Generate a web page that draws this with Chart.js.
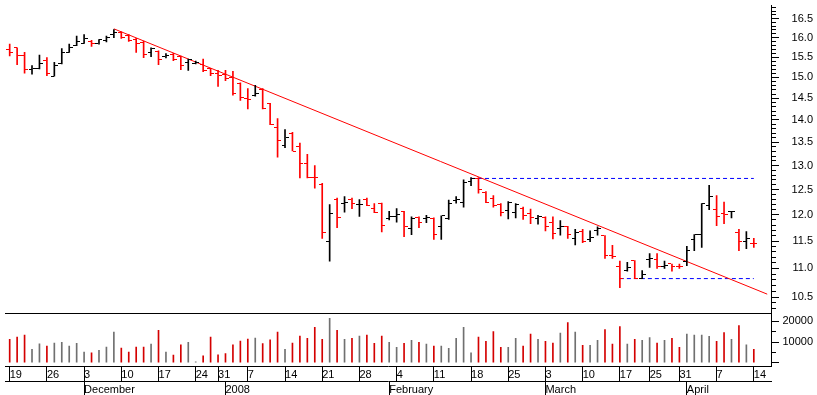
<!DOCTYPE html>
<html>
<head>
<meta charset="utf-8">
<script src="https://cdn.jsdelivr.net/npm/chart.js@4.4.1/dist/chart.umd.min.js"></script>
<style>
  html, body { margin: 0; padding: 0; background: #fff; }
  #wrap { width: 817px; height: 395px; }
</style>
</head>
<body>
<div id="wrap"><canvas id="chart"></canvas></div>
<script>
// Daily OHLC bars, 19 Nov 2007 - 14 Apr 2008, log price scale + volume pane
const dates = [
  '2007-11-19', '2007-11-20', '2007-11-21', '2007-11-22', '2007-11-23', '2007-11-26', '2007-11-27', '2007-11-28', '2007-11-29', '2007-11-30',
  '2007-12-03', '2007-12-04', '2007-12-05', '2007-12-06', '2007-12-07', '2007-12-10', '2007-12-11', '2007-12-12', '2007-12-13', '2007-12-14',
  '2007-12-17', '2007-12-18', '2007-12-19', '2007-12-20', '2007-12-21', '2007-12-24', '2007-12-27', '2007-12-28', '2007-12-31',
  '2008-01-02', '2008-01-03', '2008-01-04', '2008-01-07', '2008-01-08', '2008-01-09', '2008-01-10', '2008-01-11', '2008-01-14', '2008-01-15',
  '2008-01-16', '2008-01-17', '2008-01-18', '2008-01-21', '2008-01-22', '2008-01-23', '2008-01-24', '2008-01-25', '2008-01-28', '2008-01-29',
  '2008-01-30', '2008-01-31', '2008-02-01', '2008-02-04', '2008-02-05', '2008-02-06', '2008-02-07', '2008-02-08', '2008-02-11', '2008-02-12',
  '2008-02-13', '2008-02-14', '2008-02-15', '2008-02-18', '2008-02-19', '2008-02-20', '2008-02-21', '2008-02-22', '2008-02-25', '2008-02-26',
  '2008-02-27', '2008-02-28', '2008-02-29', '2008-03-03', '2008-03-04', '2008-03-05', '2008-03-06', '2008-03-07', '2008-03-10', '2008-03-11',
  '2008-03-12', '2008-03-13', '2008-03-14', '2008-03-17', '2008-03-18', '2008-03-19', '2008-03-20', '2008-03-25', '2008-03-26', '2008-03-27',
  '2008-03-28', '2008-03-31', '2008-04-01', '2008-04-02', '2008-04-03', '2008-04-04', '2008-04-07', '2008-04-08', '2008-04-09', '2008-04-10',
  '2008-04-11', '2008-04-14'
];

const open = [
  15.70, 15.74, 15.55, 15.19, 15.22, 15.41, 15.03, 15.35, 15.62, 15.79,
  15.85, 15.91, 15.85, 15.93, 16.07, 16.13, 16.06, 15.95, 15.87, 15.62,
  15.64, 15.52, 15.58, 15.51, 15.37, 15.35, 15.32, 15.21, 15.10, 15.06,
  15.00, 14.85, 14.49, 14.57, 14.70, 14.38, 13.83, 13.43, 13.70, 13.41,
  13.04, 12.75, 12.61, 11.49, 12.31, 12.22, 12.31, 12.20, 12.31, 12.12,
  12.22, 11.93, 11.96, 12.07, 11.74, 11.94, 11.92, 11.92, 11.77, 11.92,
  12.28, 12.25, 12.67, 12.73, 12.44, 12.33, 12.20, 12.09, 12.05, 12.13,
  12.02, 11.92, 11.94, 11.85, 11.74, 11.77, 11.54, 11.67, 11.52, 11.69,
  11.60, 11.23, 11.04, 10.96, 11.14, 10.83, 11.16, 11.16, 11.04, 11.08,
  11.04, 11.13, 11.52, 11.62, 12.18, 12.10, 12.02, 12.06, 11.66, 11.50,
  11.46
];
const high = [
  15.83, 15.74, 15.62, 15.29, 15.55, 15.49, 15.37, 15.72, 15.83, 16.04,
  16.08, 15.93, 15.95, 16.04, 16.21, 16.15, 16.08, 15.98, 15.91, 15.74,
  15.66, 15.59, 15.60, 15.53, 15.45, 15.40, 15.45, 15.22, 15.17, 15.17,
  15.15, 14.87, 14.73, 14.81, 14.73, 14.38, 14.03, 13.78, 13.72, 13.48,
  13.24, 13.00, 12.63, 12.20, 12.33, 12.36, 12.33, 12.30, 12.33, 12.22,
  12.23, 12.07, 12.12, 12.07, 11.96, 11.96, 11.99, 11.94, 11.98, 12.29,
  12.36, 12.70, 12.75, 12.75, 12.46, 12.38, 12.22, 12.26, 12.22, 12.15,
  12.11, 11.99, 11.96, 11.96, 11.89, 11.78, 11.72, 11.72, 11.69, 11.77,
  11.60, 11.42, 11.13, 11.11, 11.14, 10.96, 11.27, 11.27, 11.13, 11.08,
  11.08, 11.40, 11.62, 12.22, 12.59, 12.38, 12.25, 12.07, 11.72, 11.68,
  11.55
];
const low = [
  15.53, 15.31, 15.10, 15.08, 15.21, 15.04, 15.03, 15.33, 15.62, 15.79,
  15.85, 15.77, 15.83, 15.89, 16.00, 15.98, 15.90, 15.62, 15.49, 15.51,
  15.31, 15.48, 15.41, 15.19, 15.17, 15.33, 15.14, 15.04, 14.78, 14.92,
  14.57, 14.45, 14.25, 14.55, 14.25, 13.89, 13.18, 13.38, 13.31, 12.74,
  12.74, 12.53, 11.55, 11.13, 11.75, 12.05, 12.12, 11.97, 12.18, 12.04,
  11.67, 11.90, 11.86, 11.58, 11.62, 11.75, 11.85, 11.53, 11.53, 11.91,
  12.23, 12.15, 12.58, 12.43, 12.24, 12.15, 11.98, 11.92, 11.94, 11.91,
  11.83, 11.82, 11.69, 11.54, 11.61, 11.55, 11.43, 11.47, 11.49, 11.61,
  11.18, 11.18, 10.66, 10.95, 10.82, 10.82, 11.02, 11.00, 11.00, 10.95,
  11.00, 11.05, 11.32, 11.38, 12.10, 11.79, 11.83, 11.94, 11.32, 11.36,
  11.38
];
const close = [
  15.63, 15.55, 15.20, 15.21, 15.33, 15.10, 15.30, 15.62, 15.74, 15.91,
  15.98, 15.85, 15.94, 16.00, 16.13, 16.01, 15.93, 15.85, 15.56, 15.73,
  15.45, 15.53, 15.43, 15.30, 15.43, 15.37, 15.17, 15.09, 15.04, 14.98,
  14.61, 14.51, 14.48, 14.61, 14.26, 13.90, 13.54, 13.61, 13.31, 13.04,
  12.75, 12.74, 11.66, 12.02, 11.94, 12.25, 12.22, 12.21, 12.18, 12.05,
  11.80, 11.96, 12.00, 11.77, 11.92, 11.86, 11.94, 11.63, 11.98, 12.22,
  12.30, 12.64, 12.73, 12.51, 12.25, 12.18, 12.04, 12.25, 12.20, 11.99,
  11.94, 11.96, 11.78, 11.64, 11.78, 11.62, 11.66, 11.49, 11.56, 11.74,
  11.23, 11.22, 10.83, 11.01, 10.82, 10.89, 11.17, 11.04, 11.06, 11.04,
  11.03, 11.32, 11.62, 12.22, 12.36, 11.97, 12.01, 12.06, 11.49, 11.54,
  11.45
];
const volume = [
  11300, 12400, 13300, 6500, 9100, 8100, 9500, 9900, 8100, 9400,
  5200, 4800, 6000, 7600, 14800, 7100, 5200, 7600, 7600, 9000,
  15600, 5200, 3700, 8600, 9900, 500, 3300, 12400, 3800, 4400,
  8600, 10500, 11400, 11900, 9200, 11100, 14800, 6500, 9500, 12900,
  11800, 17100, 11300, 21400, 15600, 11300, 11800, 12900, 13300, 9400,
  12900, 9900, 7500, 9400, 10800, 9900, 9000, 8000, 8000, 7000,
  11800, 17100, 4800, 12400, 10300, 15100, 7500, 7500, 11800, 8000,
  13800, 11300, 10300, 9500, 14300, 19400, 14800, 8400, 8400, 10800,
  16000, 9000, 17500, 9000, 11300, 10800, 12200, 9500, 10800, 11800,
  7500, 13800, 13300, 13300, 12700, 10300, 14600, 11300, 18000, 8600,
  6500
];

const priceLabels = [10.5, 11.0, 11.5, 12.0, 12.5, 13.0, 13.5, 14.0, 14.5, 15.0, 15.5, 16.0, 16.5];
const volumeLabels = [10000, 20000];
const monthNames = ['January', 'February', 'March', 'April', 'May', 'June', 'July',
  'August', 'September', 'October', 'November', 'December'];

// drawn lines: [day index, price]
const downTrend = [[14, 16.23], [101.8, 10.55]];
const resistance = [[62, 12.73], [100, 12.73]];
const support = [[82, 10.82], [100, 10.82]];

const PRICE_MIN = 10.22, PRICE_MAX = 16.87;
const VOL_MIN = -1570, VOL_MAX = 23670;
const X_MIN = -0.63, X_MAX = 102.31;

const RED = '#ff0000';
const BLACK = '#000000';
const VOL_RED = '#d40000';
const VOL_GREY = '#707070';

// week / month boundaries for the date axes
const parsed = dates.map(d => new Date(d + 'T00:00:00Z'));
const weekOf = d => Math.floor((d.getTime() / 864e5 + 3) / 7);
const weekStarts = [];
const monthStarts = [];
parsed.forEach((d, i) => {
    if (i === 0 || weekOf(d) !== weekOf(parsed[i - 1])) weekStarts.push(i);
    if (i > 0 && d.getUTCMonth() !== parsed[i - 1].getUTCMonth()) monthStarts.push(i);
});
const dayLabel = i => String(parsed[i].getUTCDate());
const monthLabel = i => {
    const m = parsed[i].getUTCMonth();
    return m === 0 ? String(parsed[i].getUTCFullYear()) : monthNames[m];
};

const isDown = open.map((o, i) => close[i] < o);
const barColors = isDown.map(d => d ? RED : BLACK);
const volColors = isDown.map(d => d ? VOL_RED : VOL_GREY);

// small canvases used as point styles: open tick to the left, close tick to the right
function tickImage(color, side) {
    const c = document.createElement('canvas');
    c.width = 7;
    c.height = 1;
    const g = c.getContext('2d');
    g.fillStyle = color;
    g.fillRect(side === 'left' ? 0 : 4, 0, 3, 1);
    return c;
}
const openImg = { red: tickImage(RED, 'left'), black: tickImage(BLACK, 'left') };
const closeImg = { red: tickImage(RED, 'right'), black: tickImage(BLACK, 'right') };

const minorPrice = [];
for (let v = 103; v <= 168; v++) minorPrice.push(v / 10);
const isPriceLabel = v => priceLabels.some(p => Math.abs(p - v) < 1e-6);

Chart.defaults.font.family = '"Liberation Sans", Arial, sans-serif';
Chart.defaults.font.size = 11;
Chart.defaults.color = '#000';

const idx = dates.map((d, i) => i);
const toXY = pts => pts.map(p => ({ x: p[0], y: p[1] }));

new Chart(document.getElementById('chart'), {
    data: {
        datasets: [
            {
                type: 'bar',
                label: 'range',
                data: idx.map(i => ({ x: i, y: [low[i], high[i]] })),
                backgroundColor: barColors,
                barThickness: 1,
                grouped: false,
                xAxisID: 'x',
                yAxisID: 'y'
            },
            {
                type: 'line',
                label: 'open',
                data: idx.map(i => ({ x: i, y: open[i] })),
                showLine: false,
                pointRadius: 2,
                pointStyle: ctx => isDown[ctx.dataIndex] ? openImg.red : openImg.black,
                xAxisID: 'x',
                yAxisID: 'y'
            },
            {
                type: 'line',
                label: 'close',
                data: idx.map(i => ({ x: i, y: close[i] })),
                showLine: false,
                pointRadius: 2,
                pointStyle: ctx => isDown[ctx.dataIndex] ? closeImg.red : closeImg.black,
                xAxisID: 'x',
                yAxisID: 'y'
            },
            {
                type: 'bar',
                label: 'volume',
                data: idx.map(i => ({ x: i, y: volume[i] })),
                backgroundColor: volColors,
                barThickness: 1,
                grouped: false,
                xAxisID: 'x',
                yAxisID: 'vol'
            },
            {
                type: 'line',
                label: 'trend',
                data: toXY(downTrend),
                borderColor: RED,
                borderWidth: 1,
                pointRadius: 0,
                xAxisID: 'x',
                yAxisID: 'y'
            },
            {
                type: 'line',
                label: 'resistance',
                data: toXY(resistance),
                borderColor: '#0000ff',
                borderWidth: 1,
                borderDash: [4, 3],
                pointRadius: 0,
                xAxisID: 'x',
                yAxisID: 'y'
            },
            {
                type: 'line',
                label: 'support',
                data: toXY(support),
                borderColor: '#0000ff',
                borderWidth: 1,
                borderDash: [4, 3],
                pointRadius: 0,
                xAxisID: 'x',
                yAxisID: 'y'
            }
        ]
    },
    options: {
        responsive: true,
        maintainAspectRatio: false,
        animation: false,
        events: [],
        layout: { padding: { left: 0, right: 4, top: 0, bottom: 0 } },
        plugins: {
            legend: { display: false },
            tooltip: { enabled: false }
        },
        scales: {
            x: {
                axis: 'x',
                type: 'linear',
                position: 'bottom',
                weight: 0,
                offset: false,
                min: X_MIN,
                max: X_MAX,
                bounds: 'data',
                afterBuildTicks: s => { s.ticks = weekStarts.map(i => ({ value: i })); },
                afterFit: s => { s.height = 15; s.paddingLeft = 0; s.paddingRight = 0; },
                grid: { drawOnChartArea: false, offset: false, tickLength: 15, color: '#000', tickColor: '#000' },
                border: { display: true, color: '#000' },
                ticks: { autoSkip: false, maxRotation: 0, align: 'start', padding: -13, callback: v => dayLabel(v) }
            },
            xm: {
                axis: 'x',
                type: 'linear',
                position: 'bottom',
                weight: 1,
                offset: false,
                min: X_MIN,
                max: X_MAX,
                bounds: 'data',
                afterBuildTicks: s => { s.ticks = monthStarts.map(i => ({ value: i })); },
                afterFit: s => { s.height = 14; s.paddingLeft = 0; s.paddingRight = 0; },
                grid: { drawOnChartArea: false, offset: false, tickLength: 14, color: '#000', tickColor: '#000' },
                border: { display: true, color: '#000' },
                ticks: { autoSkip: false, maxRotation: 0, align: 'start', padding: -12, callback: v => monthLabel(v) }
            },
            y: {
                axis: 'y',
                type: 'logarithmic',
                position: 'right',
                stack: 'panes',
                stackWeight: 313,
                min: PRICE_MIN,
                max: PRICE_MAX,
                bounds: 'data',
                afterBuildTicks: s => {
                    s.ticks = [{ value: PRICE_MIN }].concat(minorPrice.map(v => ({ value: v })));
                },
                afterFit: s => { s.width = 42; s.paddingTop = 0; s.paddingBottom = 0; },
                grid: {
                    drawOnChartArea: true,
                    tickLength: 8,
                    color: ctx => ctx.tick && ctx.tick.value === PRICE_MIN ? '#000' : 'rgba(0,0,0,0)',
                    tickColor: ctx => ctx.tick && ctx.tick.value === PRICE_MIN ? 'rgba(0,0,0,0)' : '#000',
                    tickBorderDash: ctx => ctx.tick && isPriceLabel(ctx.tick.value) ? [] : [4, 20]
                },
                border: { display: true, color: '#000' },
                ticks: {
                    autoSkip: false,
                    crossAlign: 'far',
                    callback: v => isPriceLabel(v) ? v.toFixed(1) : ''
                }
            },
            vol: {
                axis: 'y',
                type: 'linear',
                position: 'right',
                stack: 'panes',
                stackWeight: 53,
                min: VOL_MIN,
                max: VOL_MAX,
                bounds: 'data',
                afterBuildTicks: s => { s.ticks = [0, 5000, 10000, 15000, 20000].map(v => ({ value: v })); },
                afterFit: s => { s.width = 42; s.paddingTop = 0; s.paddingBottom = 0; },
                grid: {
                    drawOnChartArea: false,
                    tickLength: 8,
                    color: '#000',
                    tickBorderDash: ctx => ctx.tick && ctx.tick.value % 10000 ? [4, 20] : []
                },
                border: { display: true, color: '#000' },
                ticks: {
                    autoSkip: false,
                    crossAlign: 'far',
                    callback: v => volumeLabels.includes(v) ? String(v) : ''
                }
            }
        }
    },
    plugins: [{
        id: 'crispTicks',
        beforeDatasetsDraw(chart) { chart.ctx.imageSmoothingEnabled = false; }
    }]
});
</script>
</body>
</html>
